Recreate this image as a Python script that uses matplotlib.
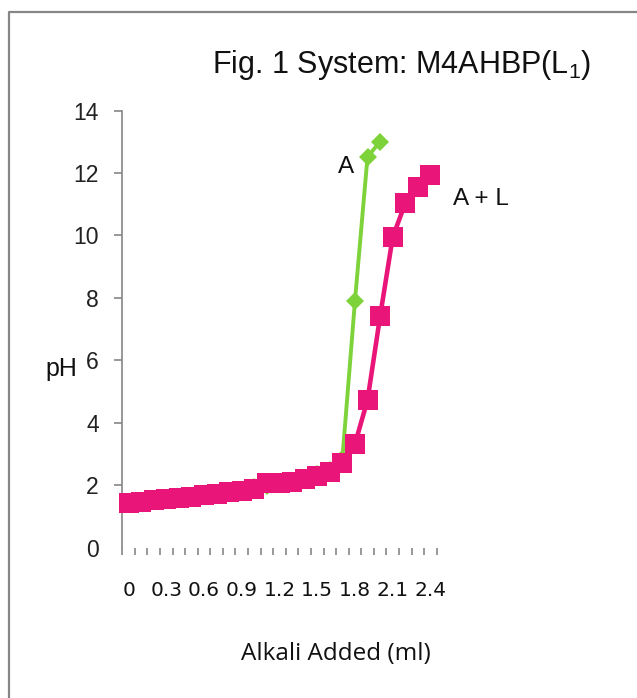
import matplotlib
matplotlib.use("Agg")
import matplotlib.pyplot as plt
from matplotlib.lines import Line2D
import numpy as np

# ---- data ----
alkali = [0.0, 0.1, 0.2, 0.3, 0.4, 0.5, 0.6, 0.7, 0.8, 0.9, 1.0, 1.1, 1.2,
          1.3, 1.4, 1.5, 1.6, 1.7, 1.8, 1.9, 2.0, 2.1, 2.2, 2.3, 2.4]
ph_A = [1.45, 1.50, 1.55, 1.60, 1.63, 1.66, 1.70, 1.74, 1.80, 1.86, 1.95, 1.97,
        2.08, 2.15, 2.24, 2.35, 2.50, 2.85, 7.90, 12.52, 13.0,
        np.nan, np.nan, np.nan, np.nan]
ph_AL = [1.42, 1.47, 1.53, 1.56, 1.58, 1.63, 1.69, 1.71, 1.77, 1.82, 1.87, 2.06,
         2.06, 2.11, 2.20, 2.30, 2.43, 2.70, 3.32, 4.73, 7.41, 9.94, 11.03,
         11.56, 11.93]
x_tick_labels = ['0', '0.3', '0.6', '0.9', '1.2', '1.5', '1.8', '2.1', '2.4']
y_ticks = [0, 2, 4, 6, 8, 10, 12, 14]

GREEN = '#7ED23A'
MAGENTA = '#E91579'
GRAY = '#868686'

W, H = 637, 698
fig = plt.figure(figsize=(W / 100, H / 100), dpi=100)
fig.patch.set_facecolor('white')

left_px, right_px = 122.3, 436.7
top_px, bot_px = 110.5, 547.7
ax = fig.add_axes([left_px / W, (H - bot_px) / H,
                   (right_px - left_px) / W, (bot_px - top_px) / H])

cats = np.arange(len(alkali))
ax.plot(cats, ph_A, color=GREEN, lw=2.8, marker='D', ms=9.5,
        markeredgewidth=0, zorder=3, clip_on=False)
ax.plot(cats, ph_AL, color=MAGENTA, lw=3.3, marker='s', ms=14.5,
        markeredgewidth=0, zorder=4, clip_on=False)

ax.set_xlim(-0.5, len(alkali) - 0.5)
ax.set_ylim(0, 14)

for s in ['top', 'right', 'bottom']:
    ax.spines[s].set_visible(False)
ax.spines['left'].set_color(GRAY)
ax.spines['left'].set_linewidth(1.2)

# y axis
ax.set_yticks(y_ticks)
ax.set_yticklabels([str(v) for v in y_ticks], fontfamily='Liberation Sans',
                   fontsize=16.5, color='#222222')
ax.tick_params(axis='y', direction='out', length=6, width=1.2, color=GRAY, pad=11)
ax.yaxis.get_major_ticks()[0].tick1line.set_visible(False)

# x axis: labels every 3rd category, tick marks between categories
label_pos = [int(round(float(t) * 10)) for t in x_tick_labels]
ax.set_xticks(label_pos)
ax.set_xticklabels(x_tick_labels, fontfamily='DejaVu Sans', fontsize=14.5,
                   color='#111111')
ax.set_xticks(np.arange(-0.5, len(alkali), 1.0), minor=True)
ax.tick_params(axis='x', which='major', length=0, pad=24)
ax.tick_params(axis='x', which='minor', direction='out', length=5.2, width=1.2,
               color=GRAY)

# annotations
ax.text(17.3, 12.2, 'A', fontfamily='Liberation Sans', fontsize=17.5,
        ha='center', va='center', color='#111111')
ax.text(25.8, 11.17, 'A + L', fontfamily='Liberation Sans', fontsize=17.5,
        ha='left', va='center', color='#111111', clip_on=False)

plt.rcParams['mathtext.fontset'] = 'custom'
plt.rcParams['mathtext.rm'] = 'Liberation Sans'
plt.rcParams['mathtext.it'] = 'Liberation Sans'
fig.text(212 / W, (H - 73) / H, r'Fig. 1 System: M4AHBP(L$_1$)',
         fontfamily='Liberation Sans', fontsize=22, ha='left', va='baseline',
         color='#111111')

fig.text(61 / W, (H - 369) / H, 'pH', fontfamily='Liberation Sans', fontsize=18,
         ha='center', va='center', color='#111111')
fig.text(335.5 / W, (H - 660) / H, 'Alkali Added (ml)', fontfamily='Open Sans',
         fontsize=17.5, ha='center', va='baseline', color='#111111')

# outer frame (left and top edges)
fig.add_artist(Line2D([9 / W, 9 / W, 1.0], [0.0, (H - 12) / H, (H - 12) / H],
                      transform=fig.transFigure, color=GRAY, lw=1.6))

fig.savefig('out.png', dpi=100, facecolor='white')
